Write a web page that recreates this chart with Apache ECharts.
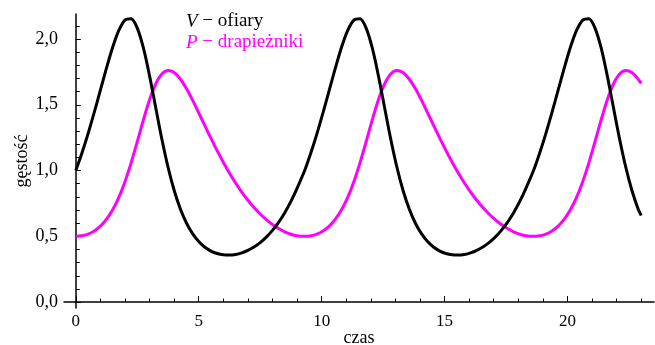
<!DOCTYPE html>
<html>
<head>
<meta charset="utf-8">
<script src="https://cdn.jsdelivr.net/npm/echarts@6/dist/echarts.min.js"></script>
<style>
  html, body { margin: 0; padding: 0; background: #fff; }
  #chart { width: 655px; height: 345px; }
</style>
</head>
<body>
<div id="chart"></div>
<script>
// czas (time) — three cycles, period about 9.31
var czas = [
    0, 0.25, 0.5, 0.75, 1, 1.25, 1.5, 1.75, 2, 2.25, 2.5, 2.75, 3, 3.25, 3.5, 3.75, 4, 4.25, 4.5,
    4.75, 5, 5.25, 5.5, 5.75, 6, 6.25, 6.5, 6.75, 7, 7.25, 7.5, 7.75, 8, 8.25, 8.5, 8.75, 9,
    9.31, 9.56, 9.81, 10.06, 10.31, 10.56, 10.81, 11.06, 11.31, 11.56, 11.81, 12.06, 12.31, 12.56,
    12.81, 13.06, 13.31, 13.56, 13.81, 14.06, 14.31, 14.56, 14.81, 15.06, 15.31, 15.56, 15.81,
    16.06, 16.31, 16.56, 16.81, 17.06, 17.31, 17.56, 17.81, 18.06, 18.31,
    18.62, 18.87, 19.12, 19.37, 19.62, 19.87, 20.12, 20.37, 20.62, 20.87, 21.12, 21.37, 21.62,
    21.87, 22.12, 22.37, 22.62, 22.87, 23
];
// V - ofiary
var ofiary = [
    1.000, 1.133, 1.281, 1.442, 1.611, 1.780, 1.937, 2.065, 2.144, 2.154, 2.083, 1.932, 1.720,
    1.479, 1.240, 1.027, 0.850, 0.709, 0.601, 0.520, 0.460, 0.417, 0.388, 0.369, 0.359, 0.357,
    0.362, 0.374, 0.393, 0.419, 0.452, 0.494, 0.545, 0.606, 0.679, 0.765, 0.865,
    1.000, 1.133, 1.281, 1.442, 1.611, 1.780, 1.937, 2.065, 2.144, 2.154, 2.083, 1.932, 1.720,
    1.479, 1.240, 1.027, 0.850, 0.709, 0.601, 0.520, 0.460, 0.417, 0.388, 0.369, 0.359, 0.357,
    0.362, 0.374, 0.393, 0.419, 0.452, 0.494, 0.545, 0.606, 0.679, 0.765, 0.865,
    1.000, 1.133, 1.281, 1.442, 1.611, 1.780, 1.937, 2.065, 2.144, 2.154, 2.083, 1.932, 1.720,
    1.479, 1.240, 1.027, 0.850, 0.709, 0.658
];
// P - drapiezniki
var drapiezniki = [
    0.500, 0.504, 0.517, 0.541, 0.578, 0.631, 0.702, 0.796, 0.915, 1.058, 1.219, 1.385, 1.538,
    1.658, 1.734, 1.761, 1.745, 1.696, 1.623, 1.535, 1.439, 1.341, 1.244, 1.151, 1.063, 0.981,
    0.905, 0.836, 0.774, 0.719, 0.670, 0.627, 0.590, 0.559, 0.534, 0.516, 0.504,
    0.500, 0.504, 0.517, 0.541, 0.578, 0.631, 0.702, 0.796, 0.915, 1.058, 1.219, 1.385, 1.538,
    1.658, 1.734, 1.761, 1.745, 1.696, 1.623, 1.535, 1.439, 1.341, 1.244, 1.151, 1.063, 0.981,
    0.905, 0.836, 0.774, 0.719, 0.670, 0.627, 0.590, 0.559, 0.534, 0.516, 0.504,
    0.500, 0.504, 0.517, 0.541, 0.578, 0.631, 0.702, 0.796, 0.915, 1.058, 1.219, 1.385, 1.538,
    1.658, 1.734, 1.761, 1.745, 1.696, 1.663
];
var xMajor = [0, 5, 10, 15, 20];
var xMinor = [1, 2, 3, 4, 6, 7, 8, 9, 11, 12, 13, 14, 16, 17, 18, 19, 21, 22, 23];
var yMajor = [0, 0.5, 1, 1.5, 2];
var yMinor = [0.1, 0.2, 0.3, 0.4, 0.6, 0.7, 0.8, 0.9, 1.1, 1.2, 1.3, 1.4, 1.6, 1.7, 1.8, 1.9, 2.1];

var serif = "'Liberation Serif', 'DejaVu Serif', serif";

function pairs(ys) {
    var out = [];
    for (var i = 0; i < czas.length; i++) {
        out.push([czas[i], ys[i]]);
    }
    return out;
}

var axisLine = {show: true, lineStyle: {color: '#000', width: 1.5}};

var option = {
    animation: false,
    backgroundColor: '#fff',
    grid: {left: 64, right: 1, top: 14, bottom: 37, outerBoundsMode: 'none', containLabel: false},
    xAxis: [{
        type: 'value',
        position: 'bottom',
        min: -0.48,
        max: 23.52,
        name: 'czas',
        nameLocation: 'middle',
        nameGap: 21,
        nameMoveOverlap: false,
        nameTextStyle: {fontFamily: serif, fontSize: 18, color: '#000'},
        axisLine: axisLine,
        axisTick: {show: true, inside: true, length: 6, customValues: xMajor, lineStyle: {color: '#000', width: 1}},
        axisLabel: {customValues: xMajor, fontFamily: serif, fontSize: 17, color: '#000', margin: 5},
        splitLine: {show: false}
    }, {
        type: 'value',
        position: 'bottom',
        min: -0.48,
        max: 23.52,
        axisLine: {show: false},
        axisTick: {show: true, inside: true, length: 3.5, customValues: xMinor, lineStyle: {color: '#000', width: 1}},
        axisLabel: {show: false},
        splitLine: {show: false}
    }],
    yAxis: [{
        type: 'value',
        position: 'left',
        min: -0.045,
        max: 2.19,
        name: 'gęstość',
        nameLocation: 'middle',
        nameRotate: 90,
        nameGap: 33,
        nameMoveOverlap: false,
        nameTextStyle: {fontFamily: serif, fontSize: 18, color: '#000'},
        axisLine: axisLine,
        axisTick: {show: true, inside: true, length: 5, customValues: yMajor, lineStyle: {color: '#000', width: 1}},
        axisLabel: {
            customValues: yMajor, fontFamily: serif, fontSize: 18, color: '#000', margin: 6,
            formatter: function (v) { return v.toFixed(1).replace('.', ','); }
        },
        splitLine: {show: false}
    }, {
        type: 'value',
        position: 'left',
        min: -0.045,
        max: 2.19,
        axisLine: {show: false},
        axisTick: {show: true, inside: true, length: 4, customValues: yMinor, lineStyle: {color: '#000', width: 1}},
        axisLabel: {show: false},
        splitLine: {show: false}
    }],
    graphic: [{
        type: 'text',
        left: 186,
        top: 12,
        style: {
            text: '{i|V} − ofiary',
            fontFamily: serif,
            fontSize: 19,
            fill: '#000',
            rich: {i: {fontStyle: 'italic', fontFamily: serif, fontSize: 19, fill: '#000'}}
        }
    }, {
        type: 'text',
        left: 186,
        top: 33,
        style: {
            text: '{i|P} − drapieżniki',
            fontFamily: serif,
            fontSize: 19,
            fill: '#ff00ff',
            rich: {i: {fontStyle: 'italic', fontFamily: serif, fontSize: 19, fill: '#ff00ff'}}
        }
    }],
    series: [{
        name: 'V',
        type: 'line',
        xAxisIndex: 0,
        yAxisIndex: 0,
        data: pairs(ofiary),
        showSymbol: false,
        smooth: 0.3,
        lineStyle: {color: '#000', width: 3},
        z: 3
    }, {
        name: 'P',
        type: 'line',
        xAxisIndex: 0,
        yAxisIndex: 0,
        data: pairs(drapiezniki),
        showSymbol: false,
        smooth: 0.3,
        lineStyle: {color: '#ff00ff', width: 3},
        z: 2
    }]
};

var myChart = echarts.init(document.getElementById('chart'));
myChart.setOption(option);
</script>
</body>
</html>
